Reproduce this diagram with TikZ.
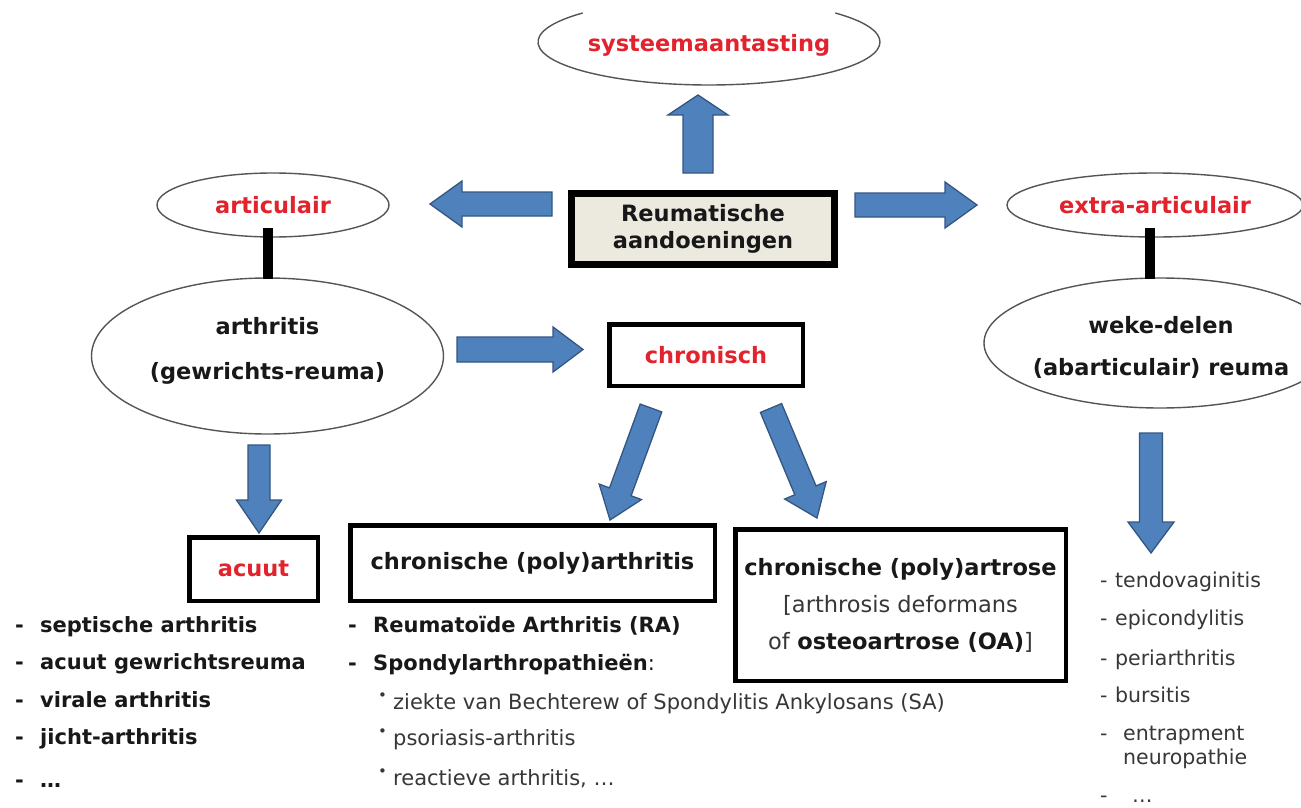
\documentclass[tikz,border=0pt]{standalone}
\usepackage{fontspec}
\setmainfont{DejaVu Sans}
\usetikzlibrary{calc,shapes.geometric}
\definecolor{redtxt}{RGB}{226,34,44}
\definecolor{arrfill}{RGB}{79,129,189}
\definecolor{arredge}{RGB}{52,86,128}
\definecolor{beige}{RGB}{236,233,223}
\definecolor{ink}{RGB}{24,24,24}
\definecolor{grayink}{RGB}{55,55,55}
\definecolor{ellline}{RGB}{85,85,85}
\newcommand{\blockarr}[5]{%
  \path let \p1=(#1), \p2=(#2),
    \n1={atan2(\y2-\y1,\x2-\x1)}, \n2={veclen(\x2-\x1,\y2-\y1)} in
    \pgfextra{\xdef\baAng{\n1}\xdef\baLen{\n2}\xdef\baX{\x1}\xdef\baY{\y1}};
  \begin{scope}[shift={(\baX,\baY)}, rotate=\baAng]
    \filldraw[barrow] (0pt,-#3pt) -- ({\baLen+0pt-#5pt},-#3pt) -- ({\baLen+0pt-#5pt},-#4pt)
      -- ({\baLen+0pt},0pt) -- ({\baLen+0pt-#5pt},#4pt) -- ({\baLen+0pt-#5pt},#3pt)
      -- (0pt,#3pt) -- cycle;
  \end{scope}}
\newcommand{\subbul}{\makebox[15pt][l]{\raisebox{0.42em}{\fontsize{15}{15}\selectfont •}}}
\begin{document}
\begin{tikzpicture}[x=1pt,y=-1pt,
  ellnode/.style={draw=ellline, line width=1.4pt, ellipse, inner sep=0pt, fill=white},
  boxnode/.style={draw=black, line width=4.5pt, rectangle, inner sep=0pt, fill=white},
  blabel/.style={font=\fontsize{22.5}{27}\selectfont\bfseries, text=ink, align=center},
  redlabel/.style={font=\fontsize{22.5}{27}\selectfont\bfseries, text=redtxt},
  listitem/.style={font=\fontsize{21}{25}\selectfont\bfseries, text=ink, anchor=mid west, inner sep=0pt},
  subitem/.style={font=\fontsize{21}{25}\selectfont, text=grayink, anchor=mid west, inner sep=0pt},
  ritem/.style={font=\fontsize{20.5}{25}\selectfont, text=grayink, anchor=mid west, inner sep=0pt},
  barrow/.style={fill=arrfill, draw=arredge, line width=1.3pt, line join=miter},
  blackbar/.style={line width=10pt, draw=black}
]
\useasboundingbox (0,0) rectangle (1301,808);
\clip (0,0) rectangle (1301,808);
\fill[white] (0,0) rectangle (1301,808);

% top ellipse (its top is cut off)
\node[ellipse, inner sep=0pt, minimum width=342pt, minimum height=86pt, redlabel] (sys) at (709,42) {};
\draw[draw=ellline, line width=1.4pt] ($(sys.center)+(137.6:171pt and 43pt)$)
  arc[start angle=137.6, end angle=402.4, x radius=171pt, y radius=43pt];
\node[redlabel] (systxt) at (709,45) {systeemaantasting};

% central box
\node[boxnode, line width=7pt, fill=beige, minimum width=263pt, minimum height=71pt, blabel] (root) at (703,229) {Reumatische\\aandoeningen};

% ellipses
\node[ellnode, minimum width=232pt, minimum height=64pt, redlabel] (art) at (273,205) {articulair};
\node[ellnode, minimum width=296pt, minimum height=64pt, redlabel] (extra) at (1155,205) {extra-articulair};
\node[ellnode, minimum width=352pt, minimum height=156pt] (arth) at (267.5,356) {};
\node[blabel, font=\fontsize{22.5}{45}\selectfont\bfseries] (arthtxt) at (267.5,351) {arthritis\\(gewrichts-reuma)};
\node[ellnode, minimum width=352pt, minimum height=130pt] (weke) at (1160,343) {};
\node[blabel, font=\fontsize{22.5}{42}\selectfont\bfseries] (weketxt) at (1161,347) {weke-delen\\(abarticulair) reuma};

% black bars
\coordinate (b1t) at ($(arth.north |- art.south)+(0,-10)$);
\coordinate (b1b) at ($(arth.north)+(0,2)$);
\draw[blackbar] (b1t) -- (b1b);
\coordinate (b2t) at ($(extra.south)+(-5,-10)$);
\coordinate (b2b) at ($(b2t |- weke.north)+(0,2)$);
\draw[blackbar] (b2t) -- (b2b);

% boxes
\node[boxnode, minimum width=128.5pt, minimum height=63.5pt, redlabel] (acuut) at (253.5,569) {acuut};
\node[boxnode, minimum width=193.5pt, minimum height=61.5pt, redlabel] (chron) at (706,355) {chronisch};
\node[boxnode, minimum width=364.5pt, minimum height=75.5pt, blabel] (poly) at (532.5,563) {chronische (poly)arthritis};
\node[boxnode, minimum width=330.5pt, minimum height=151.5pt, align=center, font=\fontsize{22.5}{37}\selectfont, text=grayink] (osteo) at (900.5,605)
  {\textbf{\color{ink}chronische (poly)artrose}\\ {[}arthrosis deformans\\ of \textbf{\color{ink}osteoartrose (OA)}{]}};

% block arrows
\coordinate (upS) at (698,173); \coordinate (upE) at (698,95);
\blockarr{upS}{upE}{15}{30}{20}
\coordinate (lfS) at (552,204); \coordinate (lfE) at (430,204);
\blockarr{lfS}{lfE}{12}{23}{32}
\coordinate (rtS) at (855,205); \coordinate (rtE) at (977,205);
\blockarr{rtS}{rtE}{12}{23}{32}
\coordinate (acS) at (259,445); \coordinate (acE) at (259,533);
\blockarr{acS}{acE}{11}{22.5}{33}
\coordinate (chS) at (457,349.5); \coordinate (chE) at (583,349.5);
\blockarr{chS}{chE}{12.5}{22.5}{30}
\coordinate (dlS) at (651,408); \coordinate (dlE) at (610,520);
\blockarr{dlS}{dlE}{11.5}{22.5}{30}
\coordinate (drS) at (771,408); \coordinate (drE) at (817,518);
\blockarr{drS}{drE}{11.5}{22.5}{30}
\coordinate (wkS) at (1151,433); \coordinate (wkE) at (1151,553);
\blockarr{wkS}{wkE}{11.5}{23}{31}

% left list
\node[listitem] (l1) at (15,630) {\makebox[25pt][l]{-}septische arthritis};
\node[listitem] (l2) at (15,667) {\makebox[25pt][l]{-}acuut gewrichtsreuma};
\node[listitem] (l3) at (15,705) {\makebox[25pt][l]{-}virale arthritis};
\node[listitem] (l4) at (15,742) {\makebox[25pt][l]{-}jicht-arthritis};
\node[listitem] (l5) at (15,785) {\makebox[25pt][l]{-}…};

% middle list
\node[listitem] (m1) at (348,630) {\makebox[25pt][l]{-}Reumatoïde Arthritis (RA)};
\node[listitem] (m2) at (348,668) {\makebox[25pt][l]{-}Spondylarthropathieën{\mdseries :}};
\node[subitem] (s1) at (378,707) {\subbul ziekte van Bechterew of Spondylitis Ankylosans (SA)};
\node[subitem] (s2) at (378,743) {\subbul psoriasis-arthritis};
\node[subitem] (s3) at (378,783) {\subbul reactieve arthritis, …};

% right list
\node[ritem] (r1) at (1100,585) {\makebox[15pt][l]{-}tendovaginitis};
\node[ritem] (r2) at (1100,623) {\makebox[15pt][l]{-}epicondylitis};
\node[ritem] (r3) at (1100,663) {\makebox[15pt][l]{-}periarthritis};
\node[ritem] (r4) at (1100,700) {\makebox[15pt][l]{-}bursitis};
\node[ritem] (r5) at (1100,738) {\makebox[23pt][l]{-}entrapment};
\node[ritem] (r6) at (1123,762) {neuropathie};
\node[ritem] (r7) at (1100,800) {\makebox[32pt][l]{-}…};
\end{tikzpicture}
\end{document}
